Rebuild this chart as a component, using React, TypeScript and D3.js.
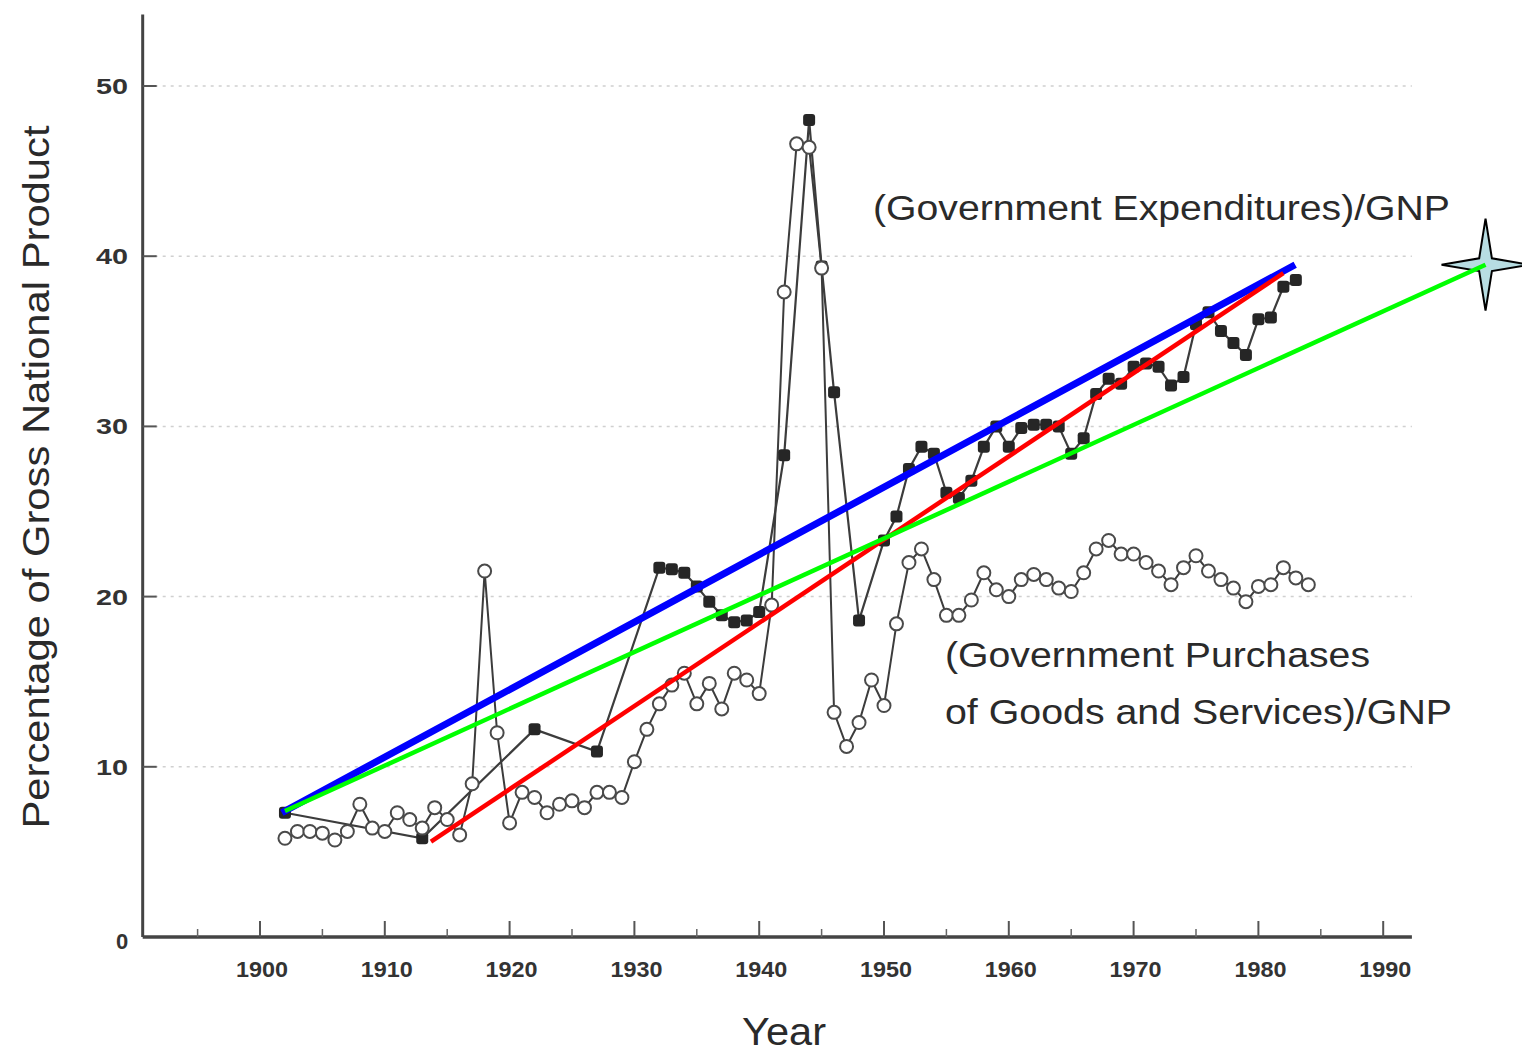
import React from "react";
import * as d3 from "d3";

// ---------- data ----------
const purchaseStartYear = 1902;
const purchaseValues = [
  5.8, 6.2, 6.2, 6.1, 5.7, 6.2, 7.8, 6.4, 6.2, 7.3, // 1902-1911
  6.9, 6.4, 7.6, 6.9, 6.0, 9.0, 21.5, 12.0, 6.7, 8.5, // 1912-1921
  8.2, 7.3, 7.8, 8.0, 7.6, 8.5, 8.5, 8.2, 10.3, 12.2, // 1922-1931
  13.7, 14.8, 15.5, 13.7, 14.9, 13.4, 15.5, 15.1, 14.3, 19.5, // 1932-1941
  37.9, 46.6, 46.4, 39.3, 13.2, 11.2, 12.6, 15.1, 13.6, 18.4, // 1942-1951
  22.0, 22.8, 21.0, 18.9, 18.9, 19.8, 21.4, 20.4, 20.0, 21.0, // 1952-1961
  21.3, 21.0, 20.5, 20.3, 21.4, 22.8, 23.3, 22.5, 22.5, 22.0, // 1962-1971
  21.5, 20.7, 21.7, 22.4, 21.5, 21.0, 20.5, 19.7, 20.6, 20.7, // 1972-1981
  21.7, 21.1, 20.7, // 1982-1984
];
const purchaseYears = purchaseValues.map((_, i) => purchaseStartYear + i);

const expenditureYears = [
  1902, 1913, 1922, 1927, 1932, 1933, 1934, 1935, 1936, 1937, 1938, 1939, 1940,
  1942, 1944, 1945, 1946, 1948, 1950, 1951, 1952, 1953, 1954, 1955, 1956, 1957,
  1958, 1959, 1960, 1961, 1962, 1963, 1964, 1965, 1966, 1967, 1968, 1969, 1970,
  1971, 1972, 1973, 1974, 1975, 1976, 1977, 1978, 1979, 1980, 1981, 1982, 1983,
];
const expenditureValues = [
  7.3, 5.8, 12.2, 10.9, 21.7, 21.6, 21.4, 20.6, 19.7, 18.9, 18.5, 18.6, 19.1,
  28.3, 48.0, 39.4, 32.0, 18.6, 23.3, 24.7, 27.5, 28.8, 28.4, 26.1, 25.8, 26.8,
  28.8, 30.0, 28.8, 29.9, 30.1, 30.1, 30.0, 28.4, 29.3, 31.9, 32.8, 32.5, 33.5,
  33.7, 33.5, 32.4, 32.9, 36.0, 36.7, 35.6, 34.9, 34.2, 36.3, 36.4, 38.2, 38.6,
];

// overlay trend lines: [startYear, startValue, endYear, endValue]
const blueLine = [1902, 7.4, 1982.7, 39.4];
const redLine = [1913.7, 5.6, 1982.0, 39.0];
const greenLine = [1902, 7.4, 1998.2, 39.5];

const xTickYears = [1900, 1910, 1920, 1930, 1940, 1950, 1960, 1970, 1980, 1990];
const xMinorYears = [1895, 1905, 1915, 1925, 1935, 1945, 1955, 1965, 1975, 1985];
const yTicks = [0, 10, 20, 30, 40, 50];

const labelExpenditures = "(Government Expenditures)/GNP";
const labelPurchases1 = "(Government Purchases";
const labelPurchases2 = "of Goods and Services)/GNP";
const yTitle = "Percentage of Gross National Product";
const xTitle = "Year";

// ---------- chart ----------
const W = 1522;
const H = 1061;

export default function App() {
  const x = d3.scaleLinear().domain([1900, 1990]).range([260, 1383.2]);
  const y = d3.scaleLinear().domain([0, 50]).range([937, 86]);

  const axisLeftX = x(1890.6);
  const axisRightX = x(1992.3);
  const axisTopY = y(54.2);
  const axisY = y(0);

  const purchData = purchaseYears.map((yr, i) => [yr, purchaseValues[i]] as [number, number]);
  const expData = expenditureYears.map((yr, i) => [yr, expenditureValues[i]] as [number, number]);

  const line = d3
    .line<[number, number]>()
    .x((d) => x(d[0]))
    .y((d) => y(d[1]));

  const font = "'Liberation Sans', Arial, Helvetica, sans-serif";
  const ink = "#2a2a2a";

  const seg = (l: number[]) => ({ x1: x(l[0]), y1: y(l[1]), x2: x(l[2]), y2: y(l[3]) });
  const b = seg(blueLine);
  const r = seg(redLine);
  const g = seg(greenLine);

  // 4-pointed star at green end
  const sx = g.x2;
  const sy = g.y2;
  const ro = 46;
  const rh = 44;
  const ri = 9;
  const starPts: [number, number][] = [];
  for (let k = 0; k < 8; k++) {
    const a = -Math.PI / 2 + (k * Math.PI) / 4;
    const rad = k % 2 === 0 ? (k % 4 === 0 ? ro : rh) : ri;
    starPts.push([sx + rad * Math.cos(a), sy + rad * Math.sin(a)]);
  }
  const starPath = "M" + starPts.map((p) => p.join(",")).join("L") + "Z";

  return (
    <svg
      width={W}
      height={H}
      style={{ position: "absolute", left: 0, top: 0, display: "block", background: "#fff" }}
    >
      <rect x={0} y={0} width={W} height={H} fill="#fff" />

      {/* faint gridlines */}
      {yTicks.filter((t) => t > 0).map((t) => (
        <line
          key={"g" + t}
          x1={axisLeftX + 12}
          x2={axisRightX}
          y1={y(t)}
          y2={y(t)}
          stroke="#d0d0d0"
          strokeWidth={1.5}
          strokeDasharray="3,5"
        />
      ))}

      {/* axes */}
      <line x1={axisLeftX} x2={axisLeftX} y1={axisTopY} y2={axisY} stroke="#444" strokeWidth={3} />
      <line x1={axisLeftX} x2={axisRightX} y1={axisY} y2={axisY} stroke="#444" strokeWidth={3.5} />

      {/* y ticks */}
      {yTicks.filter((t) => t > 0).map((t) => (
        <g key={"yt" + t}>
          <line x1={axisLeftX} x2={axisLeftX + 14} y1={y(t)} y2={y(t)} stroke="#555" strokeWidth={2} />
          <text
            x={128}
            y={y(t) + 8}
            textAnchor="end"
            fontFamily={font}
            fontSize={22}
            fontWeight="bold"
            fill="#333"
            textLength={32}
            lengthAdjust="spacingAndGlyphs"
          >
            {t}
          </text>
        </g>
      ))}
      <text x={122} y={axisY + 12} textAnchor="middle" fontFamily={font} fontSize={22} fontWeight="bold" fill="#333">
        0
      </text>

      {/* x ticks */}
      {xTickYears.map((t) => (
        <g key={"xt" + t}>
          <line x1={x(t)} x2={x(t)} y1={axisY} y2={axisY - 16} stroke="#555" strokeWidth={2} />
          <text
            x={x(t) + 2}
            y={axisY + 40}
            textAnchor="middle"
            fontFamily={font}
            fontSize={22}
            fontWeight="bold"
            fill="#333"
            textLength={52}
            lengthAdjust="spacingAndGlyphs"
          >
            {t}
          </text>
        </g>
      ))}
      {xMinorYears.map((t) => (
        <line key={"xm" + t} x1={x(t)} x2={x(t)} y1={axisY} y2={axisY - 8} stroke="#666" strokeWidth={1.5} />
      ))}

      {/* axis titles */}
      <text
        transform={`translate(${49}, ${477}) rotate(-90)`}
        textAnchor="middle"
        fontFamily={font}
        fontSize={36}
        fill={ink}
        textLength={703}
        lengthAdjust="spacingAndGlyphs"
      >
        <tspan x={0} y={0}>{yTitle}</tspan>
      </text>
      <text
        x={784}
        y={1045}
        textAnchor="middle"
        fontFamily={font}
        fontSize={38}
        fill={ink}
        textLength={84}
        lengthAdjust="spacingAndGlyphs"
      >
        {xTitle}
      </text>

      {/* series lines */}
      <path d={line(purchData) || ""} fill="none" stroke="#3c3c3c" strokeWidth={2} />
      <path d={line(expData) || ""} fill="none" stroke="#3c3c3c" strokeWidth={2.2} />

      {/* expenditure markers (filled) */}
      {expData.map((d, i) => (
        <rect
          key={"e" + i}
          x={x(d[0]) - 6}
          y={y(d[1]) - 6}
          width={12}
          height={12}
          rx={3}
          fill="#262626"
        />
      ))}

      {/* purchase markers (open) */}
      {purchData.map((d, i) => (
        <circle key={"p" + i} cx={x(d[0])} cy={y(d[1])} r={6.5} fill="#fff" stroke="#4a4a4a" strokeWidth={2} />
      ))}

      {/* series labels */}
      <text
        x={873}
        y={220}
        fontFamily={font}
        fontSize={35}
        fill={ink}
        textLength={577}
        lengthAdjust="spacingAndGlyphs"
      >
        {labelExpenditures}
      </text>
      <text
        x={945}
        y={667}
        fontFamily={font}
        fontSize={35}
        fill={ink}
        textLength={425}
        lengthAdjust="spacingAndGlyphs"
      >
        {labelPurchases1}
      </text>
      <text
        x={945}
        y={724}
        fontFamily={font}
        fontSize={35}
        fill={ink}
        textLength={507}
        lengthAdjust="spacingAndGlyphs"
      >
        {labelPurchases2}
      </text>

      {/* overlay trend lines */}
      <line {...b} stroke="#0000ff" strokeWidth={7} strokeLinecap="square" />
      <line {...r} stroke="#ff0000" strokeWidth={4.5} />
      <path d={starPath} fill="#b7dde2" stroke="#000" strokeWidth={2} />
      <line {...g} stroke="#00ff00" strokeWidth={4.5} />
    </svg>
  );
}
